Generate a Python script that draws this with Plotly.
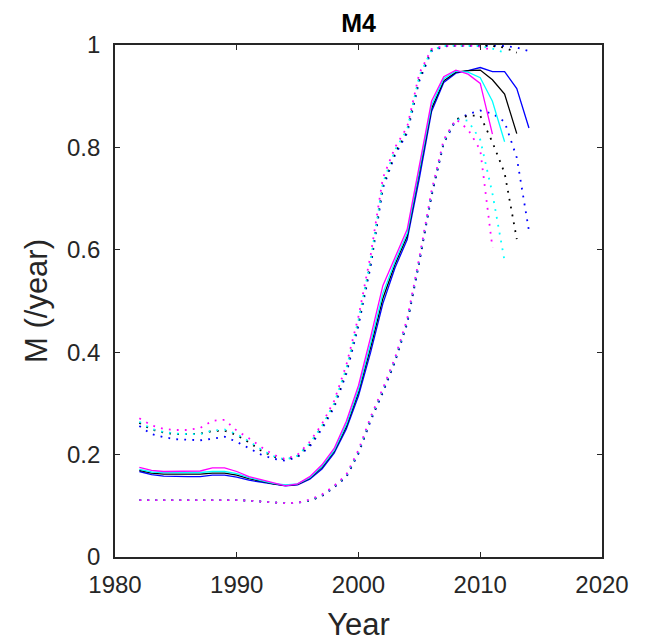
import plotly.graph_objects as go

years_m = list(range(1982, 2012))
years_c = list(range(1982, 2013))
years_k = list(range(1982, 2014))
years_b = list(range(1982, 2015))

# Central estimates (solid)
mid_m = [0.175, 0.169, 0.167, 0.167, 0.167, 0.168, 0.174, 0.174, 0.167, 0.157, 0.151, 0.145, 0.139, 0.143,
         0.157, 0.180, 0.212, 0.265, 0.335, 0.430, 0.530, 0.585, 0.640, 0.765, 0.890, 0.938, 0.951, 0.943,
         0.925, 0.826]
mid_c = [0.171, 0.166, 0.165, 0.165, 0.165, 0.165, 0.167, 0.167, 0.163, 0.155, 0.149, 0.144, 0.141, 0.143,
         0.155, 0.177, 0.208, 0.259, 0.327, 0.418, 0.515, 0.577, 0.632, 0.755, 0.882, 0.934, 0.949, 0.947,
         0.936, 0.890, 0.811]
mid_k = [0.169, 0.164, 0.162, 0.162, 0.162, 0.162, 0.164, 0.164, 0.160, 0.153, 0.148, 0.143, 0.140, 0.142,
         0.154, 0.175, 0.206, 0.255, 0.322, 0.410, 0.505, 0.572, 0.627, 0.748, 0.876, 0.930, 0.947, 0.950,
         0.951, 0.932, 0.904, 0.827]
mid_b = [0.167, 0.161, 0.158, 0.157, 0.157, 0.157, 0.160, 0.160, 0.156, 0.150, 0.146, 0.142, 0.139, 0.141,
         0.152, 0.172, 0.203, 0.250, 0.315, 0.400, 0.495, 0.565, 0.620, 0.740, 0.870, 0.927, 0.945, 0.950,
         0.956, 0.948, 0.948, 0.915, 0.838]

# Upper bounds (dotted)
hi_m = [0.271, 0.257, 0.250, 0.248, 0.248, 0.252, 0.266, 0.268, 0.247, 0.232, 0.215, 0.200, 0.191, 0.200,
        0.225, 0.260, 0.305, 0.375, 0.470, 0.590, 0.740, 0.800, 0.840, 0.945, 0.992, 0.998, 0.999, 0.999,
        0.997, 0.990]
hi_c = [0.264, 0.250, 0.244, 0.241, 0.240, 0.240, 0.247, 0.249, 0.240, 0.226, 0.210, 0.197, 0.190, 0.198,
        0.222, 0.256, 0.300, 0.368, 0.463, 0.580, 0.730, 0.795, 0.835, 0.940, 0.990, 0.998, 0.999, 0.999,
        0.998, 0.993, 0.985]
hi_k = [0.262, 0.249, 0.243, 0.240, 0.240, 0.241, 0.246, 0.247, 0.238, 0.224, 0.208, 0.196, 0.190, 0.197,
        0.220, 0.254, 0.297, 0.364, 0.458, 0.575, 0.725, 0.790, 0.832, 0.935, 0.990, 0.998, 0.999, 0.999,
        0.999, 0.998, 0.995, 0.985]
hi_b = [0.256, 0.240, 0.234, 0.230, 0.229, 0.228, 0.231, 0.235, 0.225, 0.212, 0.200, 0.192, 0.188, 0.195,
        0.216, 0.250, 0.292, 0.358, 0.452, 0.568, 0.720, 0.785, 0.828, 0.930, 0.988, 0.997, 0.999, 0.999,
        0.999, 0.999, 0.998, 0.995, 0.988]

# Lower bounds (dotted)
lo_m = [0.111, 0.111, 0.111, 0.111, 0.111, 0.111, 0.112, 0.112, 0.111, 0.110, 0.108, 0.106, 0.105, 0.106,
        0.112, 0.122, 0.139, 0.161, 0.209, 0.274, 0.329, 0.389, 0.465, 0.585, 0.715, 0.815, 0.855, 0.835,
        0.795, 0.604]
lo_c = [0.111, 0.111, 0.111, 0.111, 0.111, 0.111, 0.112, 0.112, 0.111, 0.110, 0.108, 0.106, 0.105, 0.106,
        0.111, 0.121, 0.138, 0.159, 0.206, 0.271, 0.326, 0.386, 0.461, 0.581, 0.711, 0.812, 0.855, 0.852,
        0.815, 0.710, 0.578]
lo_k = [0.111, 0.111, 0.111, 0.111, 0.111, 0.111, 0.112, 0.112, 0.111, 0.110, 0.108, 0.106, 0.105, 0.106,
        0.110, 0.120, 0.137, 0.158, 0.204, 0.269, 0.324, 0.384, 0.459, 0.579, 0.708, 0.810, 0.855, 0.862,
        0.862, 0.810, 0.750, 0.621]
lo_b = [0.111, 0.111, 0.111, 0.111, 0.111, 0.111, 0.112, 0.112, 0.111, 0.110, 0.108, 0.106, 0.105, 0.106,
        0.110, 0.119, 0.136, 0.156, 0.202, 0.266, 0.321, 0.381, 0.456, 0.576, 0.705, 0.808, 0.853, 0.865,
        0.872, 0.866, 0.850, 0.780, 0.637]

series = [
    ("blue", years_b, mid_b, hi_b, lo_b),
    ("black", years_k, mid_k, hi_k, lo_k),
    ("cyan", years_c, mid_c, hi_c, lo_c),
    ("magenta", years_m, mid_m, hi_m, lo_m),
]
colors = {"blue": "#0000FF", "black": "#000000", "cyan": "#00FFFF", "magenta": "#FF00FF"}

fig = go.Figure()
for name, yrs, mid, hi, lo in series:
    c = colors[name]
    fig.add_trace(go.Scatter(x=yrs, y=mid, mode="lines", line=dict(color=c, width=1.3), showlegend=False))
    fig.add_trace(go.Scatter(x=yrs, y=hi, mode="lines", line=dict(color=c, width=1.8, dash="1.8px,6.2px"),
                             showlegend=False))
    fig.add_trace(go.Scatter(x=yrs, y=lo, mode="lines", line=dict(color=c, width=1.8, dash="1.8px,6.2px"),
                             showlegend=False))

axcol = "#262626"
font = "Liberation Sans, Arial, Helvetica, sans-serif"
fig.update_layout(
    width=649, height=642,
    margin=dict(l=115, r=47, t=45, b=85, autoexpand=False),
    plot_bgcolor="white", paper_bgcolor="white",
    title=dict(text="<b>M4</b>", x=0.5, xanchor="center", xref="paper", y=(642 - 23) / 642, yref="container",
               yanchor="middle", font=dict(family=font, size=25, color="black")),
    font=dict(family=font, size=24, color=axcol),
)
fig.update_xaxes(range=[1980, 2020], tickvals=[1980, 1990, 2000, 2010, 2020], ticks="inside", ticklen=5,
                 tickwidth=1.3, tickcolor=axcol, showline=True, linecolor=axcol, linewidth=1.6, mirror="ticks",
                 showgrid=False, zeroline=False, ticklabelstandoff=5, automargin=False,
                 title=dict(text="Year", font=dict(size=31, color=axcol), standoff=21),
                 tickfont=dict(size=24, color=axcol))
fig.update_yaxes(range=[0, 1], tickvals=[0, 0.2, 0.4, 0.6, 0.8, 1], ticktext=["0", "0.2", "0.4", "0.6", "0.8", "1"],
                 ticks="inside", ticklen=5, tickwidth=1.3, tickcolor=axcol, showline=True, linecolor=axcol,
                 linewidth=1.6, mirror="ticks", showgrid=False, zeroline=False, ticklabelstandoff=8,
                 automargin=False,
                 title=dict(text="M (/year)", font=dict(size=31, color=axcol), standoff=10),
                 tickfont=dict(size=24, color=axcol))

fig.write_html("out.html")
